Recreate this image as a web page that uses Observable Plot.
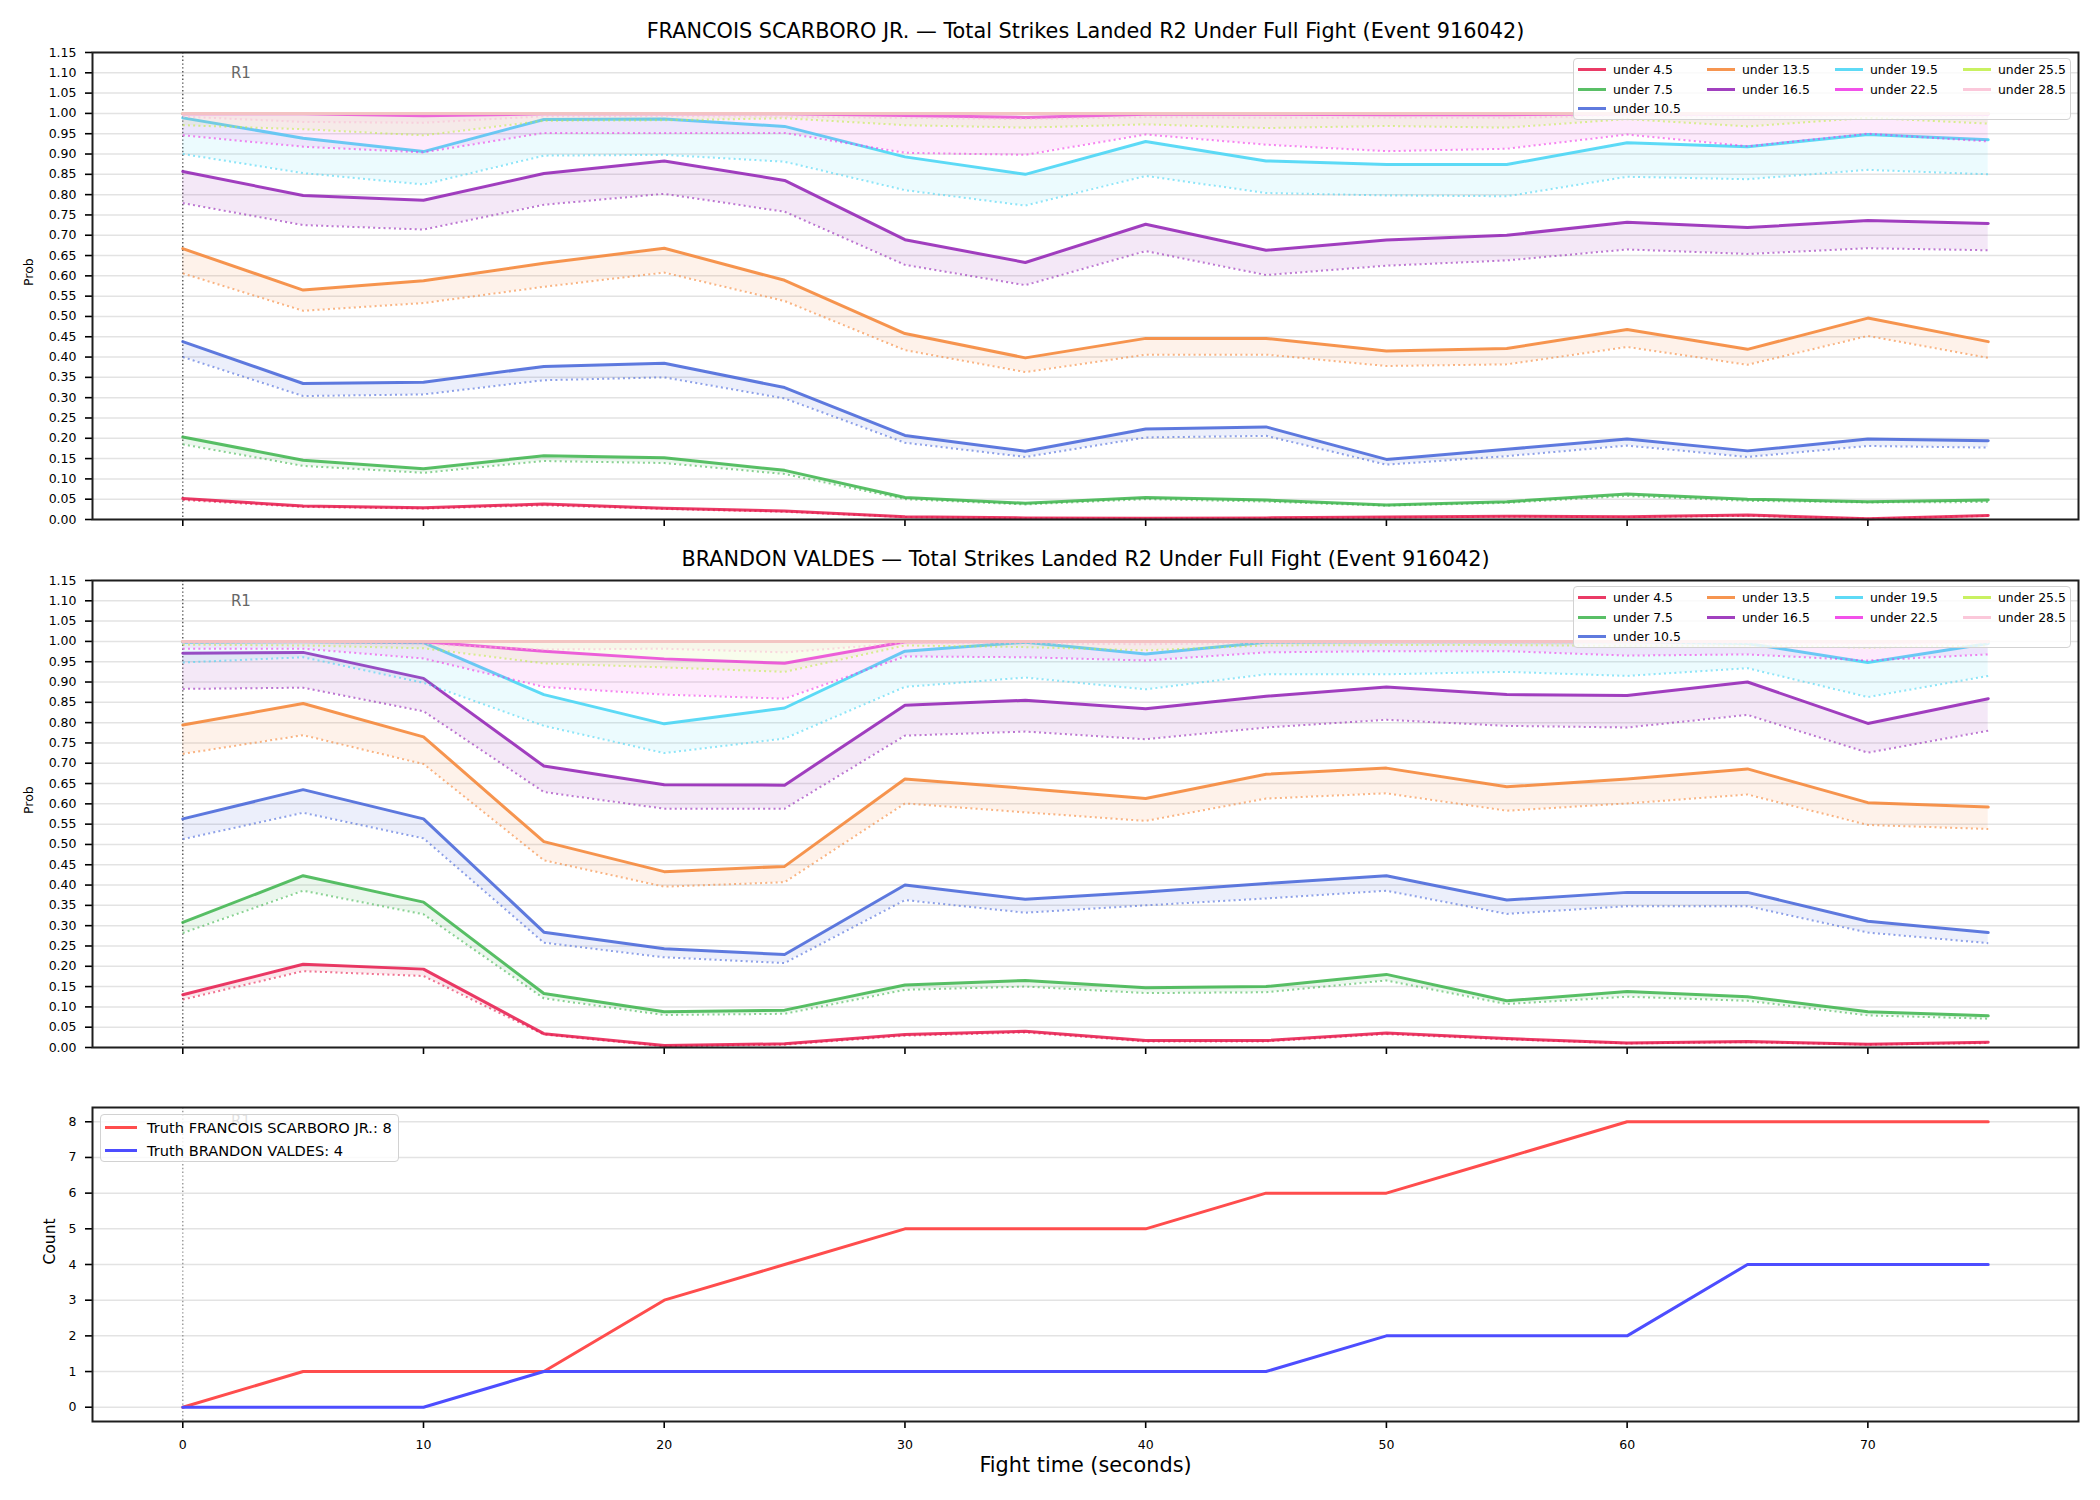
<!DOCTYPE html>
<html><head><meta charset="utf-8">
<script src="https://cdn.jsdelivr.net/npm/d3@7"></script>
<script src="https://cdn.jsdelivr.net/npm/@observablehq/plot@0.6"></script>
<style>
html,body{margin:0;padding:0;background:#fff;overflow:hidden;}
#fig{position:relative;width:2100px;height:1500px;overflow:hidden;font-family:"DejaVu Sans",sans-serif;}
.panel{position:absolute;left:0;}
.legend{position:absolute;background:rgba(255,255,255,0.8);border:1.5px solid #d2d2d2;border-radius:4px;box-sizing:border-box;}
.lg-item{position:absolute;display:flex;align-items:center;white-space:nowrap;color:#000;height:18px;}
.lg-line{display:inline-block;height:3px;}
</style></head><body><div id="fig"></div>
<script>
// ---------- data ----------
const times = [0,5,10,15,20,25,30,35,40,45,50,55,60,65,70,75];
const thresholds = ["under 4.5","under 7.5","under 10.5","under 13.5","under 16.5","under 19.5","under 22.5","under 25.5","under 28.5"];
const colors = ["#e6194b","#3cb44b","#4363d8","#f58231","#911eb4","#42d4f4","#f032e6","#bfef45","#fabed4"];
const probTicks = [0,0.05,0.10,0.15,0.20,0.25,0.30,0.35,0.40,0.45,0.50,0.55,0.60,0.65,0.70,0.75,0.80,0.85,0.90,0.95,1.00,1.05,1.10,1.15];
const timeTicks = [0,10,20,30,40,50,60,70];
const countTicks = [0,1,2,3,4,5,6,7,8];

const scarboroTitle = "FRANCOIS SCARBORO JR. — Total Strikes Landed R2 Under Full Fight (Event 916042)";
const valdesTitle = "BRANDON VALDES — Total Strikes Landed R2 Under Full Fight (Event 916042)";

// FRANCOIS SCARBORO JR. : solid (upper) and dotted (lower) per threshold
const scarboroUpper = [
  [0.052,0.033,0.029,0.038,0.028,0.021,0.007,0.004,0.003,0.004,0.006,0.008,0.007,0.011,0.002,0.010],
  [0.203,0.146,0.125,0.157,0.152,0.121,0.054,0.040,0.054,0.048,0.036,0.044,0.063,0.050,0.044,0.048],
  [0.438,0.335,0.338,0.377,0.385,0.325,0.207,0.168,0.223,0.228,0.148,0.173,0.198,0.169,0.198,0.194],
  [0.667,0.565,0.588,0.631,0.668,0.589,0.458,0.398,0.446,0.446,0.415,0.421,0.468,0.419,0.496,0.438],
  [0.857,0.798,0.786,0.852,0.883,0.835,0.689,0.633,0.727,0.663,0.688,0.700,0.732,0.719,0.736,0.729],
  [0.989,0.939,0.906,0.985,0.986,0.968,0.893,0.850,0.931,0.883,0.874,0.874,0.928,0.918,0.948,0.935],
  [0.999,0.999,0.994,0.999,0.999,0.999,0.995,0.990,0.998,0.998,0.997,0.997,0.999,0.998,0.999,0.998],
  [1.000,1.000,1.000,1.000,1.000,1.000,1.000,1.000,1.000,1.000,1.000,1.000,1.000,1.000,1.000,1.000],
  [1.000,1.000,1.000,1.000,1.000,1.000,1.000,1.000,1.000,1.000,1.000,1.000,1.000,1.000,1.000,1.000]
];
const scarboroLower = [
  [0.048,0.031,0.027,0.035,0.026,0.019,0.006,0.003,0.002,0.003,0.005,0.007,0.006,0.009,0.002,0.009],
  [0.185,0.132,0.115,0.144,0.139,0.112,0.050,0.037,0.050,0.044,0.034,0.041,0.058,0.046,0.042,0.043],
  [0.400,0.304,0.308,0.343,0.350,0.298,0.189,0.154,0.202,0.206,0.135,0.156,0.182,0.154,0.181,0.177],
  [0.606,0.514,0.533,0.573,0.608,0.538,0.417,0.363,0.406,0.406,0.378,0.382,0.425,0.381,0.452,0.398],
  [0.779,0.725,0.714,0.775,0.802,0.758,0.627,0.577,0.661,0.602,0.625,0.638,0.665,0.654,0.668,0.663],
  [0.900,0.853,0.825,0.896,0.898,0.881,0.811,0.773,0.846,0.804,0.798,0.796,0.844,0.838,0.861,0.850],
  [0.946,0.918,0.904,0.952,0.952,0.952,0.903,0.898,0.948,0.923,0.907,0.913,0.948,0.919,0.950,0.931],
  [0.971,0.961,0.946,0.982,0.983,0.988,0.971,0.965,0.973,0.964,0.969,0.965,0.986,0.968,0.989,0.975],
  [0.992,0.979,0.977,0.993,0.993,0.992,0.989,0.986,0.991,0.989,0.990,0.989,0.995,0.990,0.995,0.992]
];

// BRANDON VALDES
const valdesUpper = [
  [0.130,0.205,0.193,0.034,0.005,0.009,0.032,0.040,0.017,0.017,0.036,0.022,0.011,0.015,0.008,0.013],
  [0.308,0.423,0.358,0.133,0.088,0.092,0.154,0.165,0.147,0.150,0.180,0.115,0.138,0.125,0.088,0.078],
  [0.563,0.635,0.563,0.284,0.243,0.229,0.400,0.365,0.383,0.404,0.423,0.363,0.382,0.382,0.311,0.283],
  [0.794,0.847,0.765,0.507,0.433,0.446,0.661,0.638,0.613,0.673,0.688,0.642,0.661,0.686,0.603,0.592],
  [0.971,0.973,0.909,0.693,0.647,0.646,0.843,0.855,0.834,0.865,0.888,0.869,0.867,0.900,0.798,0.859],
  [0.998,0.999,0.997,0.869,0.797,0.836,0.976,0.998,0.969,0.998,0.999,0.999,0.999,0.995,0.948,0.995],
  [1.000,1.000,0.999,0.976,0.957,0.946,0.999,1.000,1.000,1.000,1.000,1.000,1.000,1.000,0.999,1.000],
  [1.000,1.000,1.000,1.000,1.000,1.000,1.000,1.000,1.000,1.000,1.000,1.000,1.000,1.000,1.000,1.000],
  [1.000,1.000,1.000,1.000,1.000,1.000,1.000,1.000,1.000,1.000,1.000,1.000,1.000,1.000,1.000,1.000]
];
const valdesLower = [
  [0.118,0.188,0.176,0.032,0.003,0.007,0.029,0.037,0.015,0.015,0.033,0.020,0.010,0.013,0.007,0.011],
  [0.282,0.386,0.328,0.121,0.080,0.083,0.142,0.150,0.134,0.136,0.165,0.107,0.125,0.115,0.079,0.071],
  [0.513,0.578,0.515,0.258,0.222,0.208,0.363,0.332,0.350,0.367,0.386,0.329,0.348,0.348,0.283,0.257],
  [0.723,0.769,0.698,0.461,0.396,0.407,0.601,0.579,0.558,0.613,0.626,0.583,0.601,0.623,0.548,0.538],
  [0.883,0.886,0.828,0.629,0.588,0.588,0.768,0.778,0.759,0.788,0.807,0.792,0.788,0.819,0.726,0.780],
  [0.948,0.961,0.898,0.792,0.725,0.761,0.888,0.911,0.882,0.919,0.919,0.925,0.915,0.934,0.863,0.915],
  [0.982,0.982,0.958,0.888,0.869,0.859,0.963,0.961,0.953,0.973,0.976,0.976,0.965,0.968,0.953,0.968],
  [0.992,0.990,0.983,0.946,0.936,0.925,0.990,0.986,0.978,0.990,0.991,0.991,0.989,0.990,0.985,0.990],
  [0.996,0.995,0.993,0.980,0.982,0.973,0.996,0.995,0.993,0.996,0.996,0.996,0.995,0.996,0.994,0.996]
];

// truth counts
const truthScarboro = [0,1,1,1,3,4,5,5,5,6,6,7,8,8,8,8];
const truthValdes   = [0,0,0,1,1,1,1,1,1,1,2,2,2,4,4,4];
const truthLabels = ["Truth FRANCOIS SCARBORO JR.: 8","Truth BRANDON VALDES: 4"];
const truthColors = ["rgb(255,77,77)","rgb(77,77,255)"];

// ---------- drawing ----------
const fig = document.getElementById("fig");
const FONT = "DejaVu Sans";
const xDomain = [-3.75, 78.75];

function place(el, top) {
  el.classList.add("panel");
  el.style.top = top + "px";
  fig.appendChild(el);
}

function probPanel(upper, lower, title, top) {
  const marks = [
    Plot.gridY(probTicks, {stroke: "#e3e3e3", strokeOpacity: 1, strokeWidth: 1.5}),
    Plot.ruleX([0], {stroke: "#555", strokeWidth: 1.4, strokeDasharray: "1.4,2.4"})
  ];
  thresholds.forEach((th, i) => {
    const d = times.map((t, j) => ({t, hi: upper[i][j], lo: lower[i][j]}));
    marks.push(Plot.areaY(d, {x: "t", y1: "lo", y2: "hi", fill: colors[i], fillOpacity: 0.1}));
    marks.push(Plot.lineY(d, {x: "t", y: "hi", stroke: colors[i], strokeWidth: 3, strokeOpacity: 0.85}));
    marks.push(Plot.lineY(d, {x: "t", y: "lo", stroke: colors[i], strokeWidth: 2, strokeOpacity: 0.6, strokeDasharray: "2,3.2", strokeLinecap: "butt"}));
  });
  marks.push(
    Plot.text(["R1"], {x: 2, y: 1.15 * 0.955, textAnchor: "start", fill: "#666", fontSize: 15}),
    Plot.axisY(probTicks, {tickFormat: d3.format(".2f"), tickSize: 7, tickPadding: 9, strokeWidth: 1.6, fontSize: 12.5, label: null}),
    Plot.axisX(timeTicks, {tickFormat: () => "", tickSize: 7, strokeWidth: 1.6, label: null}),
    Plot.frame({stroke: "#1e1e1e", strokeWidth: 2}),
    Plot.text(["Prob"], {frameAnchor: "left", dx: -64, rotate: -90, fontSize: 12.5, fill: "#000"}),
    Plot.text([title], {frameAnchor: "top", lineAnchor: "middle", dy: -21, fontSize: 20.8, fill: "#000"})
  );
  const p = Plot.plot({
    width: 2100, height: 540,
    marginLeft: 92, marginRight: 22, marginTop: 52, marginBottom: 21,
    x: {domain: xDomain}, y: {domain: [0, 1.15]},
    style: {fontFamily: FONT, fontSize: "12.5px", color: "#000", background: "transparent", overflow: "visible"},
    marks
  });
  place(p, top);
}

function probLegend(top) {
  const box = document.createElement("div");
  box.className = "legend";
  Object.assign(box.style, {left: "1573px", top: top + "px", width: "498px", height: "62px", zIndex: 5});
  const colCounts = [3, 2, 2, 2];
  const colX = [4, 133, 261, 389];
  const rowY = [10.4, 30, 49.8];
  let k = 0;
  colCounts.forEach((n, c) => {
    for (let r = 0; r < n; r++, k++) {
      const it = document.createElement("div");
      it.className = "lg-item";
      Object.assign(it.style, {left: colX[c] + "px", top: (rowY[r] - 9) + "px", fontSize: "12.4px"});
      const ln = document.createElement("span");
      ln.className = "lg-line";
      Object.assign(ln.style, {width: "28px", marginRight: "7px", background: colors[k], opacity: 0.85});
      const tx = document.createElement("span");
      tx.textContent = thresholds[k];
      it.appendChild(ln); it.appendChild(tx);
      box.appendChild(it);
    }
  });
  fig.appendChild(box);
}

function countPanel(top) {
  const d = times.map((t, j) => ({t, a: truthScarboro[j], b: truthValdes[j]}));
  const p = Plot.plot({
    width: 2100, height: 440,
    marginLeft: 92, marginRight: 22, marginTop: 47, marginBottom: 79,
    x: {domain: xDomain}, y: {domain: [-0.4, 8.4]},
    style: {fontFamily: FONT, fontSize: "12.5px", color: "#000", background: "transparent", overflow: "visible"},
    marks: [
      Plot.gridY(countTicks, {stroke: "#e3e3e3", strokeOpacity: 1, strokeWidth: 1.5}),
      Plot.ruleX([0], {stroke: "#999", strokeWidth: 1.4, strokeDasharray: "1.4,2.4"}),
      Plot.text(["R1"], {x: 2, y: -0.4 + 8.8 * 0.955, textAnchor: "start", fill: "#666", fontSize: 15}),
      Plot.lineY(d, {x: "t", y: "a", stroke: truthColors[0], strokeWidth: 3}),
      Plot.lineY(d, {x: "t", y: "b", stroke: truthColors[1], strokeWidth: 3}),
      Plot.axisY(countTicks, {tickFormat: d3.format("d"), tickSize: 7, tickPadding: 9, strokeWidth: 1.6, fontSize: 12.5, label: null}),
      Plot.axisX(timeTicks, {tickFormat: d3.format("d"), tickSize: 7, tickPadding: 12, strokeWidth: 1.6, fontSize: 12.5, label: null}),
      Plot.frame({stroke: "#1e1e1e", strokeWidth: 2}),
      Plot.text(["Count"], {frameAnchor: "left", dx: -42, rotate: -90, fontSize: 15.5, fill: "#000"}),
      Plot.text(["Fight time (seconds)"], {frameAnchor: "bottom", lineAnchor: "middle", dy: 44, fontSize: 20.8, fill: "#000"})
    ]
  });
  place(p, top);

  const box = document.createElement("div");
  box.className = "legend";
  Object.assign(box.style, {left: "100px", top: "1114px", width: "299px", height: "48px", zIndex: 5});
  truthLabels.forEach((lab, i) => {
    const it = document.createElement("div");
    it.className = "lg-item";
    Object.assign(it.style, {left: "4px", top: (i === 0 ? 12 : 35) - 9 + "px", fontSize: "14.6px"});
    const ln = document.createElement("span");
    ln.className = "lg-line";
    Object.assign(ln.style, {width: "32px", marginRight: "10px", background: truthColors[i]});
    const tx = document.createElement("span");
    tx.textContent = lab;
    it.appendChild(ln); it.appendChild(tx);
    box.appendChild(it);
  });
  fig.appendChild(box);
}

probPanel(scarboroUpper, scarboroLower, scarboroTitle, 0);
probPanel(valdesUpper, valdesLower, valdesTitle, 528);
countPanel(1060);
probLegend(58);
probLegend(586);
</script></body></html>
